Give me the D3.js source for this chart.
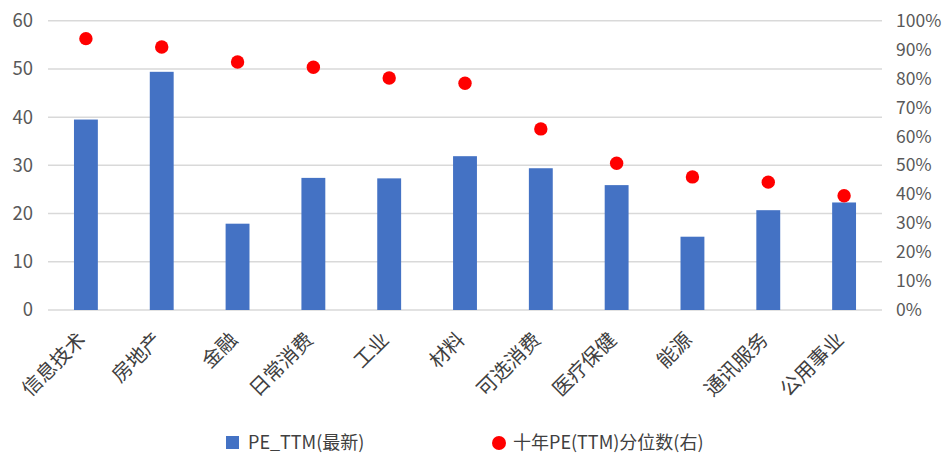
<!DOCTYPE html>
<html><head><meta charset="utf-8">
<script src="https://cdn.jsdelivr.net/npm/d3@7"></script>
<style>body{margin:0;background:#fff}svg{display:block}</style>
</head><body>
<svg id="c" width="950" height="457"></svg>
<script>
const categories = ["信息技术","房地产","金融","日常消费","工业","材料","可选消费","医疗保健","能源","通讯服务","公用事业"];
const peTTM = [39.5, 49.4, 17.9, 27.4, 27.3, 31.9, 29.4, 25.9, 15.2, 20.7, 22.3];
const pctile = [0.938, 0.909, 0.857, 0.839, 0.802, 0.784, 0.626, 0.507, 0.460, 0.442, 0.395];
const leftTicks = [0,10,20,30,40,50,60];
const rightTicks = [0,0.1,0.2,0.3,0.4,0.5,0.6,0.7,0.8,0.9,1.0];
const seriesNames = ["PE_TTM(最新)", "十年PE(TTM)分位数(右)"];

const font = "'Microsoft YaHei','Noto Sans CJK SC','Noto Sans',sans-serif";
const svg = d3.select("#c");
const L = 48, R = 882, T = 20.7, B = 310;
const x = d3.scaleBand().domain(categories).range([L, R]).paddingInner(0.685).paddingOuter(0.3425);
const y = d3.scaleLinear().domain([0, 60]).range([B, T]);
const y2 = d3.scaleLinear().domain([0, 1]).range([B, T]);

// gridlines
svg.append("g").selectAll("line").data(leftTicks).join("line")
  .attr("x1", L).attr("x2", R).attr("y1", d => y(d)).attr("y2", d => y(d))
  .attr("stroke", "#d9d9d9").attr("stroke-width", 1.5);

// left axis
const ga = svg.append("g").attr("transform", `translate(${L},0)`)
  .call(d3.axisLeft(y).tickValues(leftTicks).tickSize(0).tickPadding(15));
ga.select(".domain").remove();
ga.selectAll("text").attr("font-family", font).attr("font-size", 18.5).attr("fill", "#595959");

// right axis
const gr = svg.append("g").attr("transform", `translate(${R},0)`)
  .call(d3.axisRight(y2).tickValues(rightTicks).tickFormat(d3.format(".0%")).tickSize(0).tickPadding(14));
gr.select(".domain").remove();
gr.selectAll("text").attr("font-family", font).attr("font-size", 17.5).attr("fill", "#595959");

// bars
svg.append("g").selectAll("rect").data(categories).join("rect")
  .attr("x", d => x(d)).attr("width", x.bandwidth())
  .attr("y", (d, i) => y(peTTM[i])).attr("height", (d, i) => B - y(peTTM[i]))
  .attr("fill", "#4472c4");

// dots
svg.append("g").selectAll("circle").data(categories).join("circle")
  .attr("cx", d => x(d) + x.bandwidth() / 2).attr("cy", (d, i) => y2(pctile[i]))
  .attr("r", 6.7).attr("fill", "#ff0000");

// category labels
const gx = svg.append("g").attr("transform", `translate(0,${B})`)
  .call(d3.axisBottom(x).tickSize(0).tickPadding(0));
gx.select(".domain").remove();
gx.selectAll("text")
  .attr("font-family", font).attr("font-size", 20).attr("fill", "#404040")
  .attr("text-anchor", "end").attr("dy", null)
  .attr("transform", "translate(1,31) rotate(-45)");

// legend
const lg = svg.append("g").attr("font-family", font).attr("font-size", 18).attr("fill", "#404040");
lg.append("rect").attr("x", 226).attr("y", 436).attr("width", 13).attr("height", 13).attr("fill", "#4472c4");
lg.append("text").attr("x", 248).attr("y", 443).attr("dy", "0.35em").text(seriesNames[0]);
lg.append("circle").attr("cx", 499).attr("cy", 443).attr("r", 7).attr("fill", "#ff0000");
lg.append("text").attr("x", 513).attr("y", 443).attr("dy", "0.35em").text(seriesNames[1]);
</script>
</body></html>
